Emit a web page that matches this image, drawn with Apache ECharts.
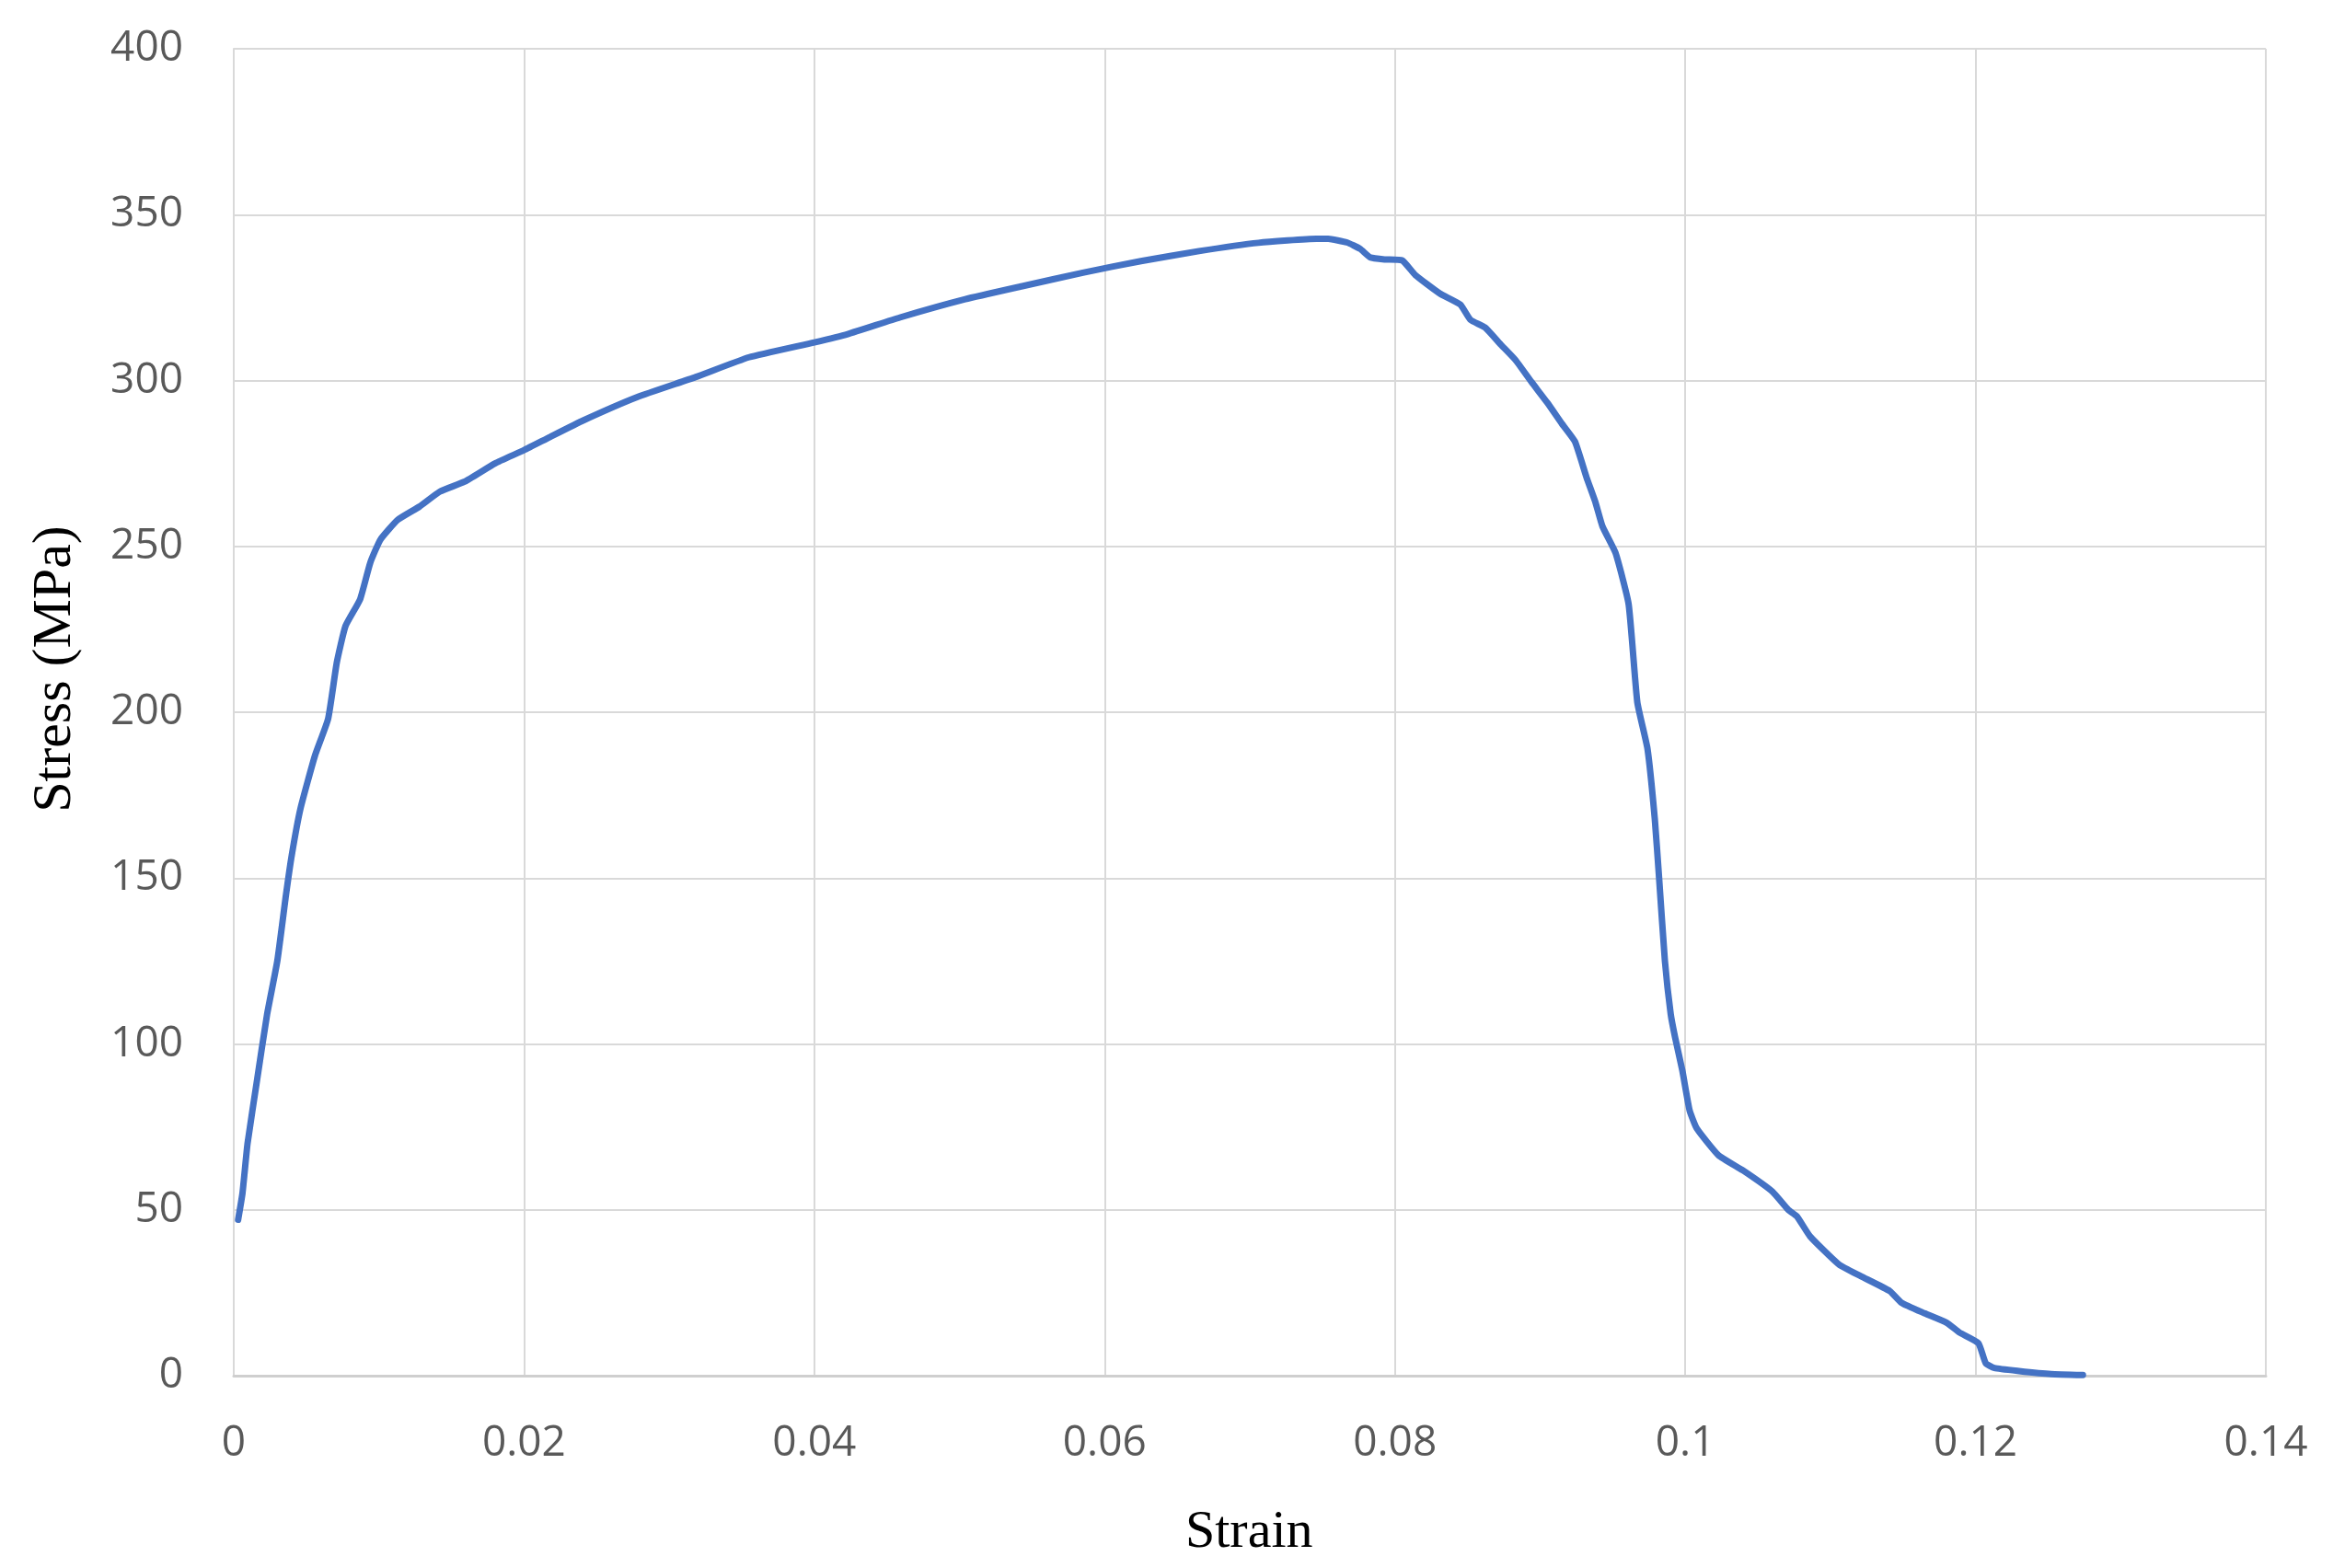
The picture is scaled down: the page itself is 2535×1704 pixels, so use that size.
<!DOCTYPE html>
<html>
<head>
<meta charset="utf-8">
<title>Stress-Strain</title>
<script src="https://cdn.jsdelivr.net/npm/echarts@6/dist/echarts.min.js"></script>
<style>
  html, body { margin: 0; padding: 0; background: #fff; }
  #chart { width: 2535px; height: 1704px; }
</style>
</head>
<body>
<div id="chart"></div>
<script>
const strain = [
  0.0003, 0.0006, 0.00095, 0.0016, 0.0023, 0.003, 0.0036, 0.004, 0.0046, 0.0056,
  0.0065, 0.0071, 0.0077, 0.0087, 0.0094, 0.0101, 0.0113, 0.0128, 0.0142, 0.0159,
  0.018, 0.02, 0.0218, 0.0241, 0.0278, 0.0318, 0.0355, 0.04, 0.0423, 0.0459,
  0.0504, 0.0544, 0.0585, 0.0625, 0.0665, 0.0706, 0.0746, 0.0754, 0.0767, 0.0776,
  0.0783, 0.0793, 0.0805, 0.0814, 0.0831, 0.0845, 0.0852, 0.0862, 0.0873, 0.0883,
  0.0894, 0.0905, 0.0915, 0.0924, 0.0932, 0.0938, 0.0943, 0.0952, 0.0961, 0.0967,
  0.0974, 0.0979, 0.0982, 0.0986, 0.099, 0.0993, 0.0998, 0.1003, 0.1008, 0.1023,
  0.104, 0.106, 0.1071, 0.1077, 0.1086, 0.1106, 0.1121, 0.1141, 0.1149, 0.1165,
  0.118, 0.1189, 0.1202, 0.1207, 0.1213, 0.123, 0.1252, 0.1274
];
const stress = [
  47, 55, 70, 89, 109, 125, 145, 157, 171, 187,
  198, 215, 226, 234, 245, 252, 258, 262, 266.5, 269.5,
  275, 279, 283, 288, 295, 301, 307, 311.5, 314, 319,
  324.5, 328.5, 332.5, 336, 339, 341.5, 342.7, 342.7, 341.6, 339.7,
  337.1, 336.5, 336.2, 331.8, 326.2, 322.9, 318.3, 316, 310.8, 306.2,
  299.6, 293.3, 287, 281.6, 270.8, 263.5, 256, 248, 232.6, 203,
  189, 168, 150, 125, 109, 102, 92, 80, 74.5, 66.4,
  61.8, 55.5, 50, 48, 42, 33.5, 30, 25.5, 22, 18.8,
  16, 13, 9.8, 3.8, 2.3, 1.4, 0.5, 0.2
];
const xTicks = [0, 0.14, 0.02];   // min, max, step
const yTicks = [0, 400, 50];

const points = strain.map((s, i) => [s, stress[i]]);

const chart = echarts.init(document.getElementById('chart'));

const gridLine = { show: true, lineStyle: { color: '#d9d9d9', width: 2 } };
const tickFont = { fontFamily: 'Open Sans', fontSize: 46, color: '#595959' };

chart.setOption({
  backgroundColor: '#fff',
  animation: false,
  grid: { left: 254, right: 73, top: 53, bottom: 209 },
  xAxis: {
    type: 'value',
    min: xTicks[0],
    max: xTicks[1],
    interval: xTicks[2],
    axisLine: { show: true, lineStyle: { color: '#cfcfcf', width: 3 } },
    axisTick: { show: false },
    splitLine: gridLine,
    axisLabel: Object.assign({ margin: 51 }, tickFont)
  },
  yAxis: {
    type: 'value',
    min: yTicks[0],
    max: yTicks[1],
    interval: yTicks[2],
    axisLine: { show: true, lineStyle: { color: '#d9d9d9', width: 2 } },
    axisTick: { show: false },
    splitLine: gridLine,
    axisLabel: Object.assign({ margin: 55 }, tickFont)
  },
  graphic: [
    {
      type: 'text',
      left: 1358 - 70,
      top: 1637,
      style: { text: 'Strain', font: '58px "Liberation Serif"', fill: '#000' }
    },
    {
      type: 'text',
      x: 60,
      y: 727,
      rotation: Math.PI / 2,
      style: {
        text: 'Stress (MPa)', font: '60px "Liberation Serif"', fill: '#000',
        align: 'center', verticalAlign: 'middle'
      }
    }
  ],
  series: [{
    type: 'line',
    data: points,
    showSymbol: false,
    smooth: 0.15,
    lineStyle: { color: '#4472C4', width: 7, join: 'round', cap: 'round' }
  }]
});
</script>
</body>
</html>
